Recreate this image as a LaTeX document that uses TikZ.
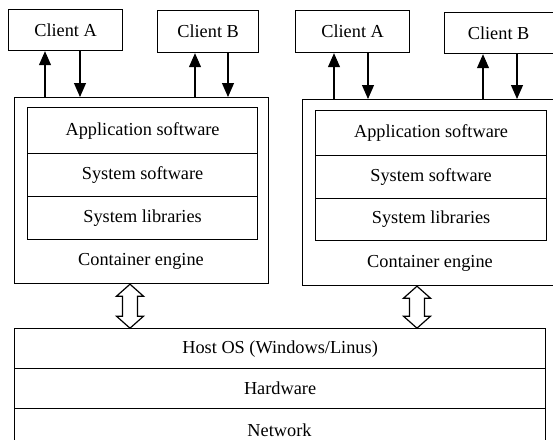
\documentclass[tikz,border=0pt]{standalone}
\usepackage{fontspec}
\setmainfont{Liberation Serif}
\newfontfamily\tmsfont{Liberation Serif}
\usetikzlibrary{arrows.meta}
\begin{document}
\begin{tikzpicture}[x=1pt,y=-1pt,
  every node/.style={font=\tmsfont\fontsize{18.3}{20}\selectfont, inner sep=0pt},
  box/.style={draw, line width=1.2pt, anchor=north west},
  txt/.style={anchor=center},
  arr/.style={line width=1.1pt, -{Triangle[width=12pt,length=14pt]}},
  pics/dblarr/.style={code={
    \draw[line width=1.2pt, fill=white] (0,0) -- (13.5,12) -- (7.5,12) -- (7.5,#1-12) -- (13.5,#1-12) -- (0,#1)
      -- (-13.5,#1-12) -- (-7.5,#1-12) -- (-7.5,12) -- (-13.5,12) -- cycle;
  }}]
\useasboundingbox (0,0) rectangle (553,439);
\clip (0,0) rectangle (553,439);

% ---------- left group ----------
\node[box, minimum width=114pt, minimum height=41pt] (lA) at (8,9) {};
\node[txt] at (lA.center) {Client A};
\node[box, minimum width=101pt, minimum height=42pt] (lB) at (157,10) {};
\node[txt] at (lB.center) {Client B};
\node[box, minimum width=254pt, minimum height=186pt] (lC) at (14,97) {};
\node[box, minimum width=230pt, minimum height=46pt] (l1) at (27,107) {Application software};
\node[box, minimum width=230pt, minimum height=43pt] (l2) at (27,153) {System software};
\node[box, minimum width=230pt, minimum height=43pt] (l3) at (27,196) {System libraries};
\node[txt] (lE) at (141,261) {Container engine};

\draw[arr] (45,0 |- lC.north) -- (45,0 |- lA.south);
\draw[arr] (80,0 |- lA.south) -- (80,0 |- lC.north);
\draw[arr] (195,0 |- lC.north) -- (195,0 |- lB.south);
\draw[arr] (228,0 |- lB.south) -- (228,0 |- lC.north);

% ---------- right group ----------
\node[box, minimum width=114pt, minimum height=42pt] (rA) at (295,10) {};
\node[txt] at (rA.center) {Client A};
\node[box, minimum width=118pt, minimum height=41pt] (rB) at (444,12) {};
\node[txt] at ([xshift=-5pt]rB.center) {Client B};
\node[box, minimum width=258pt, minimum height=186pt] (rC) at (302,99) {};
\node[box, minimum width=231pt, minimum height=45pt] (r1) at (315,110) {Application software};
\node[box, minimum width=231pt, minimum height=43pt] (r2) at (315,155) {System software};
\node[box, minimum width=231pt, minimum height=42pt] (r3) at (315,198) {System libraries};
\node[txt] (rE) at (430,263) {Container engine};

\draw[arr] (334,0 |- rC.north) -- (334,0 |- rA.south);
\draw[arr] (368,0 |- rA.south) -- (368,0 |- rC.north);
\draw[arr] (483,0 |- rC.north) -- (483,0 |- rB.south);
\draw[arr] (517,0 |- rB.south) -- (517,0 |- rC.north);

% ---------- host ----------
\node[box, minimum width=531pt, minimum height=40pt] (h1) at (14,328) {Host OS (Windows/Linus)};
\node[box, minimum width=531pt, minimum height=40pt] (h2) at (14,368) {Hardware};
\node[box, minimum width=531pt, minimum height=34pt] (h3) at (14,408) {};
\node[txt] at (279.5,430) {Network};

% ---------- double arrows ----------
\pic at (130,0 |- lC.south) {dblarr=44};
\pic at (417,0 |- rC.south) {dblarr=42};
\end{tikzpicture}
\end{document}
